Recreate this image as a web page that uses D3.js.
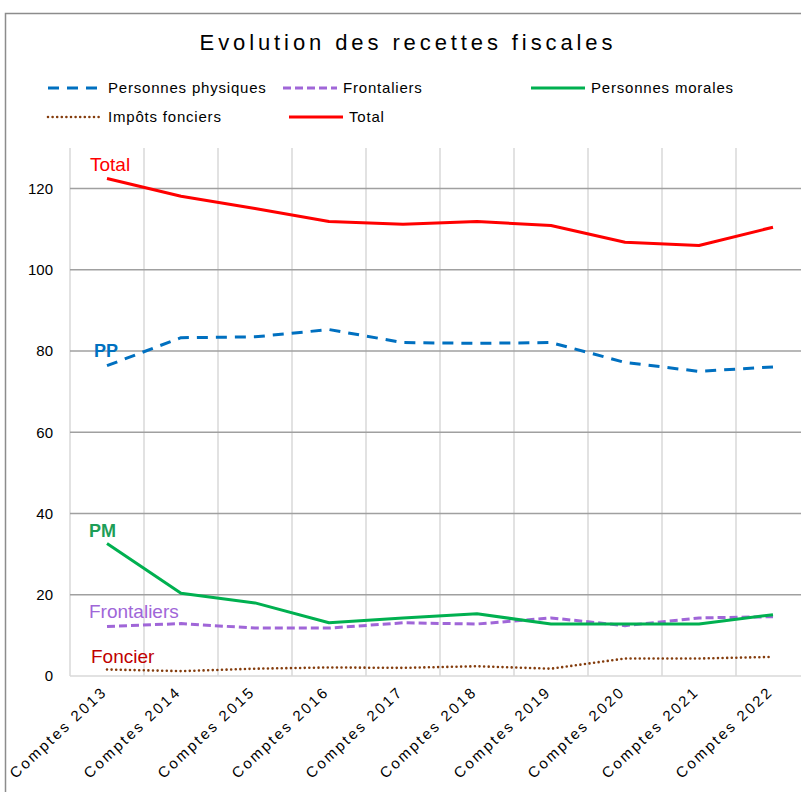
<!DOCTYPE html>
<html>
<head>
<meta charset="utf-8">
<script src="https://cdn.jsdelivr.net/npm/d3@7"></script>
<style>
  body { margin: 0; background: #fff; }
  svg { display: block; font-family: "Liberation Sans", Arial, sans-serif; }
</style>
</head>
<body>
<svg id="chart" width="801" height="792"></svg>
<script>
// categories and series
var years = ["Comptes 2013", "Comptes 2014", "Comptes 2015", "Comptes 2016", "Comptes 2017",
             "Comptes 2018", "Comptes 2019", "Comptes 2020", "Comptes 2021", "Comptes 2022"];
var personnesPhysiques = [76.4, 83.3, 83.5, 85.3, 82.1, 81.9, 82.1, 77.2, 75.0, 76.1];
var frontaliers = [12.2, 12.9, 11.8, 11.8, 13.1, 12.8, 14.3, 12.4, 14.3, 14.6];
var personnesMorales = [32.6, 20.4, 18.0, 13.1, 14.3, 15.3, 12.8, 12.8, 12.8, 15.1];
var impotsFonciers = [1.6, 1.2, 1.8, 2.1, 2.0, 2.4, 1.8, 4.3, 4.3, 4.7];
var total = [122.5, 118.1, 115.1, 111.9, 111.2, 111.9, 110.9, 106.8, 106.0, 110.5];
var yTicks = [0, 20, 40, 60, 80, 100, 120];

var series = [
    { name: "Personnes physiques", values: personnesPhysiques, color: "#0070c0", dash: "11,8", width: 3, cap: "butt" },
    { name: "Frontaliers", values: frontaliers, color: "#a066d8", dash: "8,4", width: 3, cap: "butt" },
    { name: "Personnes morales", values: personnesMorales, color: "#00b050", dash: null, width: 3, cap: "butt" },
    { name: "Impôts fonciers", values: impotsFonciers, color: "#843c0c", dash: "0,4.6", width: 2.6, cap: "round" },
    { name: "Total", values: total, color: "#ff0000", dash: null, width: 3, cap: "butt" }
];

var svg = d3.select("#chart");

// chart frame (right and bottom edges fall outside the picture)
svg.append("path")
    .attr("d", "M5.5,800 V13.5 H820")
    .style("fill", "none")
    .style("stroke", "#8c8c8c")
    .style("stroke-width", 1.5);

var x = d3.scaleBand().domain(years).range([70, 810]);
var y = d3.scaleLinear().domain([0, 130]).range([676, 148]);
function cx(d) { return x(d) + x.bandwidth() / 2; }

// vertical grid lines
svg.selectAll(".vgrid")
    .data(years)
    .enter().append("line")
    .attr("x1", function(d) { return x(d); })
    .attr("x2", function(d) { return x(d); })
    .attr("y1", y(130))
    .attr("y2", y(0))
    .style("stroke", "#d9d9d9")
    .style("stroke-width", 1.5);

// horizontal grid lines
svg.selectAll(".hgrid")
    .data(yTicks.filter(function(t) { return t > 0; }))
    .enter().append("line")
    .attr("x1", 70)
    .attr("x2", 810)
    .attr("y1", function(d) { return y(d); })
    .attr("y2", function(d) { return y(d); })
    .style("stroke", "#a0a0a0")
    .style("stroke-width", 1.5);

// base line
svg.append("line")
    .attr("x1", 70).attr("x2", 810)
    .attr("y1", y(0)).attr("y2", y(0))
    .style("stroke", "#d9d9d9")
    .style("stroke-width", 1.5);

// y axis labels
svg.selectAll(".ylab")
    .data(yTicks)
    .enter().append("text")
    .attr("x", 53)
    .attr("y", function(d) { return y(d); })
    .attr("dy", "0.35em")
    .attr("text-anchor", "end")
    .style("font-size", "15px")
    .style("fill", "#000")
    .text(function(d) { return d; });

// x axis labels
svg.selectAll(".xlab")
    .data(years)
    .enter().append("text")
    .attr("transform", function(d) { return "translate(" + (cx(d) + 1) + ",693) rotate(-43)"; })
    .attr("text-anchor", "end")
    .style("font-size", "15px")
    .style("letter-spacing", "2.4px")
    .style("fill", "#000")
    .text(function(d) { return d; });

// lines
var line = d3.line()
    .x(function(d, i) { return cx(years[i]); })
    .y(function(d) { return y(d); });

svg.selectAll(".serie")
    .data(series)
    .enter().append("path")
    .attr("d", function(s) { return line(s.values); })
    .style("fill", "none")
    .style("stroke", function(s) { return s.color; })
    .style("stroke-width", function(s) { return s.width; })
    .style("stroke-dasharray", function(s) { return s.dash; })
    .style("stroke-linecap", function(s) { return s.cap; })
    .style("stroke-linejoin", "round");

// inline labels
var inlineLabels = [
    { text: "Total", x: 90, y: 171, color: "#ff0000", weight: "normal", size: 19 },
    { text: "PP", x: 94, y: 357, color: "#0070c0", weight: "bold", size: 18 },
    { text: "PM", x: 89, y: 537, color: "#1e9e58", weight: "bold", size: 18 },
    { text: "Frontaliers", x: 89, y: 618, color: "#a066d8", weight: "normal", size: 19 },
    { text: "Foncier", x: 91, y: 663, color: "#c00000", weight: "normal", size: 19 }
];
svg.selectAll(".inl")
    .data(inlineLabels)
    .enter().append("text")
    .attr("x", function(d) { return d.x; })
    .attr("y", function(d) { return d.y; })
    .style("font-size", function(d) { return d.size + "px"; })
    .style("font-weight", function(d) { return d.weight; })
    .style("fill", function(d) { return d.color; })
    .text(function(d) { return d.text; });

// title
svg.append("text")
    .attr("x", 408)
    .attr("y", 50)
    .attr("text-anchor", "middle")
    .style("font-size", "22px")
    .style("letter-spacing", "3.9px")
    .style("fill", "#000")
    .text("Evolution des recettes fiscales");

// legend
var legendPos = [[48, 88], [283, 88], [531, 88], [48, 117], [289, 117]];
var legend = svg.selectAll(".leg")
    .data(series)
    .enter().append("g")
    .attr("transform", function(s, i) { return "translate(" + legendPos[i][0] + "," + legendPos[i][1] + ")"; });

legend.append("line")
    .attr("x1", 0).attr("x2", 54)
    .style("stroke", function(s) { return s.color; })
    .style("stroke-width", function(s) { return s.width; })
    .style("stroke-dasharray", function(s) { return s.dash; })
    .style("stroke-linecap", function(s) { return s.cap; });

legend.append("text")
    .attr("x", 60)
    .attr("dy", "0.35em")
    .style("font-size", "15px")
    .style("letter-spacing", "0.8px")
    .style("fill", "#000")
    .text(function(s) { return s.name; });
</script>
</body>
</html>
